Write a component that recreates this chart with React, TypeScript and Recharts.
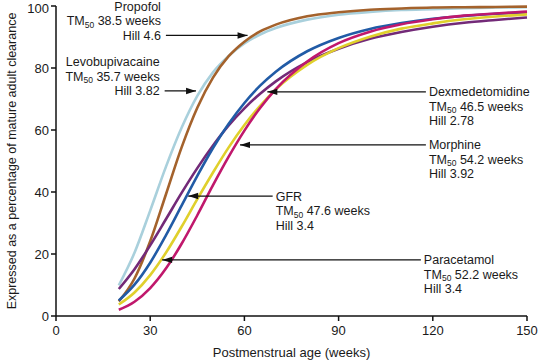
import React from 'react';
import { LineChart, Line, XAxis, YAxis, ReferenceLine } from 'recharts';

// postmenstrual age (weeks) at which clearance was read
const weeks = [20, 25, 30, 35, 40, 45, 50, 55, 60, 65, 70, 80, 90, 100, 110, 120, 130, 140, 150];

// % of mature adult clearance
const levobupivacaine = [9.9, 20.4, 34.0, 48.1, 60.7, 71.0, 78.6, 83.9, 87.9, 90.8, 92.9, 95.6, 97.2, 98.1, 98.7, 99.0, 99.3, 99.5, 99.6];
const propofol = [4.7, 12.1, 24.1, 39.2, 54.4, 67.2, 76.9, 83.8, 88.5, 91.8, 94.0, 96.7, 98.0, 98.8, 99.2, 99.5, 99.6, 99.7, 99.8];
const dexmedetomidine = [8.7, 15.1, 22.8, 31.2, 39.7, 47.7, 55.0, 61.5, 67.0, 71.7, 75.7, 81.9, 86.2, 89.4, 91.6, 93.3, 94.6, 95.5, 96.3];
const gfr = [5.0, 10.1, 17.2, 26.0, 35.6, 45.2, 54.2, 62.0, 68.7, 74.3, 78.8, 85.4, 89.7, 92.6, 94.5, 95.9, 96.8, 97.5, 98.0];
const paracetamol = [3.7, 7.6, 13.2, 20.4, 28.8, 37.7, 46.3, 54.4, 61.6, 67.8, 73.1, 81.0, 86.4, 90.1, 92.7, 94.4, 95.7, 96.6, 97.3];
const morphine = [2.0, 4.6, 9.0, 15.3, 23.3, 32.5, 42.2, 51.4, 59.8, 67.1, 73.2, 82.1, 88.0, 91.7, 94.1, 95.7, 96.9, 97.6, 98.2];

const xTicks = [0, 30, 60, 90, 120, 150];
const yTicks = [0, 20, 40, 60, 80, 100];

// annotation text; tip/tail in data units
const notes = [
  { name: 'Propofol', tm: '38.5', hill: '4.6', tip: [61, 90.5], tail: [35, 90.5], side: 'left' },
  { name: 'Levobupivacaine', tm: '35.7', hill: '3.82', tip: [44.6, 72.6], tail: [34.6, 72.6], side: 'left' },
  { name: 'Dexmedetomidine', tm: '46.5', hill: '2.78', tip: [67.3, 72.3], tail: [117.8, 72.3], side: 'right' },
  { name: 'Morphine', tm: '54.2', hill: '3.92', tip: [58.6, 55.2], tail: [117.8, 55.2], side: 'right' },
  { name: 'GFR', tm: '47.6', hill: '3.4', tip: [42.1, 38.7], tail: [69, 38.7], side: 'right' },
  { name: 'Paracetamol', tm: '52.2', hill: '3.4', tip: [33.8, 18.1], tail: [116.2, 18.1], side: 'right' },
];

const data = weeks.map((w, i) => ({
  week: w,
  levobupivacaine: levobupivacaine[i],
  propofol: propofol[i],
  dexmedetomidine: dexmedetomidine[i],
  gfr: gfr[i],
  paracetamol: paracetamol[i],
  morphine: morphine[i],
}));

const series = [
  { key: 'levobupivacaine', color: '#a9d0dc' },
  { key: 'propofol', color: '#a4622c' },
  { key: 'dexmedetomidine', color: '#732a78' },
  { key: 'gfr', color: '#215ba6' },
  { key: 'paracetamol', color: '#e0d02c' },
  { key: 'morphine', color: '#c0186c' },
];

const textStyle = { fontSize: 12.5, fill: '#1a1a1a' };

const arrowShape = (note: any) => (props: any) => {
  const { x1, y1, x2, y2 } = props;
  const dir = x2 > x1 ? 1 : -1;
  const head = `${x1},${y1} ${x1 + dir * 10},${y1 - 3.2} ${x1 + dir * 10},${y1 + 3.2}`;
  const left = note.side === 'left';
  const anchor = left ? 'end' : 'start';
  const tx = left ? x2 - 5 : x2 + 3;
  const ty = left ? y2 - 29 : y2;
  return (
    <g>
      <line x1={x1} y1={y1} x2={x2} y2={y2} stroke="#111" strokeWidth={1.2} />
      <polygon points={head} fill="#111" />
      <text x={tx} y={ty + 4.5} textAnchor={anchor} style={textStyle}>
        {note.name}
      </text>
      <text x={tx} y={ty + 19} textAnchor={anchor} style={textStyle}>
        <tspan>TM</tspan>
        <tspan fontSize={8.5} dy={2.5}>50</tspan>
        <tspan dy={-2.5}>{` ${note.tm} weeks`}</tspan>
      </text>
      <text x={tx} y={ty + 33.5} textAnchor={anchor} style={textStyle}>
        {`Hill ${note.hill}`}
      </text>
    </g>
  );
};

export default function App() {
  return (
    <div style={{ width: 540, height: 363, fontFamily: '"Liberation Sans", Arial, sans-serif', background: '#fff' }}>
      <style>{'body{margin:0}'}</style>
      <LineChart width={540} height={363} data={data} margin={{ top: 6, right: 13, bottom: 0, left: 0 }}>
        <XAxis
          dataKey="week"
          type="number"
          domain={[0, 150]}
          ticks={xTicks}
          height={47}
          tickSize={5}
          tickMargin={5}
          stroke="#111"
          strokeWidth={1.5}
          tick={{ fontSize: 13, fill: '#1a1a1a' }}
          label={{ value: 'Postmenstrual age (weeks)', position: 'insideBottom', offset: 6, style: { fontSize: 13, fill: '#1a1a1a' } }}
        />
        <YAxis
          type="number"
          domain={[0, 100]}
          ticks={yTicks}
          width={56}
          tickSize={5}
          tickMargin={2}
          stroke="#111"
          strokeWidth={1.5}
          tick={{ fontSize: 13, fill: '#1a1a1a' }}
          label={{
            value: 'Expressed as a percentage of mature adult clearance',
            angle: -90,
            position: 'insideLeft',
            offset: 12,
            style: { fontSize: 12.5, fill: '#1a1a1a', textAnchor: 'middle' },
          }}
        />
        {series.map((s) => (
          <Line
            key={s.key}
            dataKey={s.key}
            type="monotone"
            stroke={s.color}
            strokeWidth={2.6}
            dot={false}
            activeDot={false}
            isAnimationActive={false}
          />
        ))}
        {notes.map((n) => (
          <ReferenceLine
            key={n.name}
            segment={[
              { x: n.tip[0], y: n.tip[1] },
              { x: n.tail[0], y: n.tail[1] },
            ]}
            shape={arrowShape(n)}
          />
        ))}
      </LineChart>
    </div>
  );
}
